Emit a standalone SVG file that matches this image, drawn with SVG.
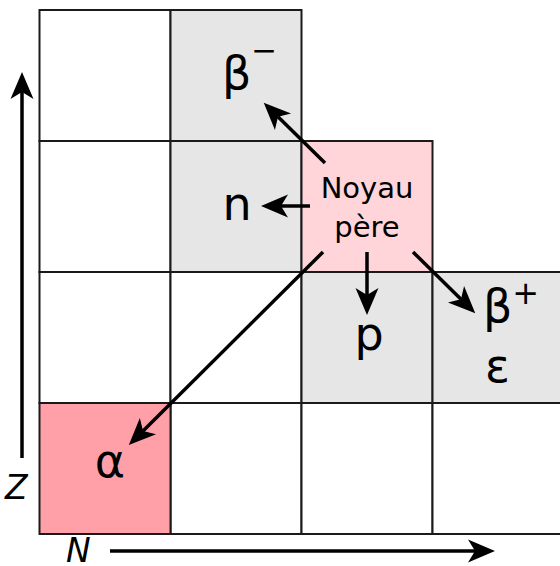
<svg xmlns="http://www.w3.org/2000/svg" width="560" height="566" viewBox="0 0 560 566">
<style>
.cell{stroke:#1a1a1a;stroke-width:2}
.w{fill:#ffffff}
.g{fill:#e6e6e6}
.pk{fill:#ffd5da}
.al{fill:#ffa0a8}
.big{font-family:"DejaVu Sans",sans-serif;font-size:46px;fill:#000}
.lab{font-family:"DejaVu Sans",sans-serif;font-size:29px;fill:#000;text-anchor:middle}
.ax{font-family:"DejaVu Sans",sans-serif;font-size:33px;font-style:italic;fill:#000}
.arr{stroke:#000;stroke-width:3.5;fill:none;marker-end:url(#ah)}
</style>
<defs>
<marker id="ah" markerUnits="userSpaceOnUse" markerWidth="30" markerHeight="26" refX="7" refY="13" orient="auto" overflow="visible">
<path d="M27,13 L0,1.5 L7,13 L0,24.5 Z" fill="#000"/>
</marker>
</defs>
<rect width="560" height="566" fill="#fff"/>
<g id="cells">
<rect id="c00" class="cell w" x="39.5" y="10" width="131" height="131"/>
<rect id="c01" class="cell w" x="39.5" y="141" width="131" height="131"/>
<rect id="c02" class="cell w" x="39.5" y="272" width="131" height="131"/>
<rect id="c12" class="cell w" x="170.5" y="272" width="131" height="131"/>
<rect id="c13" class="cell w" x="170.5" y="403" width="131" height="131"/>
<rect id="c23" class="cell w" x="301.5" y="403" width="131" height="131"/>
<rect id="c33" class="cell w" x="432.5" y="403" width="132" height="131"/>
</g>
<g id="node-beta-minus">
<rect class="cell g" x="170.5" y="10" width="131" height="131"/>
<text class="big" x="222" y="89">β<tspan font-size="31px" dy="-28">−</tspan></text>
</g>
<g id="node-n">
<rect class="cell g" x="170.5" y="141" width="131" height="131"/>
<text class="big" x="237" y="220" text-anchor="middle">n</text>
</g>
<g id="node-pere">
<rect class="cell pk" x="301.5" y="141" width="131" height="131"/>
<text class="lab" x="367" y="198">Noyau</text>
<text class="lab" x="367" y="237">père</text>
</g>
<g id="node-p">
<rect class="cell g" x="301.5" y="272" width="131" height="131"/>
<text class="big" x="369" y="350" text-anchor="middle">p</text>
</g>
<g id="node-beta-plus">
<rect class="cell g" x="432.5" y="272" width="132" height="131"/>
<text class="big" x="483" y="322">β<tspan font-size="32px" dy="-18">+</tspan></text>
<text class="big" x="497.5" y="382" text-anchor="middle">ε</text>
</g>
<g id="node-alpha">
<rect class="cell al" x="39.5" y="403" width="131" height="131"/>
<text class="big" x="110" y="477" text-anchor="middle">α</text>
</g>
<g id="connectors">
<line class="arr" x1="325" y1="163" x2="278" y2="116.8"/>
<line class="arr" x1="310" y1="206" x2="281" y2="206"/>
<line class="arr" x1="367" y1="252" x2="367" y2="295"/>
<line class="arr" x1="413" y1="252" x2="461" y2="299.2"/>
<line class="arr" x1="323" y1="252" x2="143" y2="431"/>
<line class="arr" x1="22" y1="458" x2="22" y2="92"/>
<line class="arr" x1="110" y1="551" x2="475" y2="551"/>
</g>
<g id="axes-labels">
<text class="ax" x="5" y="499">Z</text>
<text class="ax" x="66" y="562">N</text>
</g>
</svg>
